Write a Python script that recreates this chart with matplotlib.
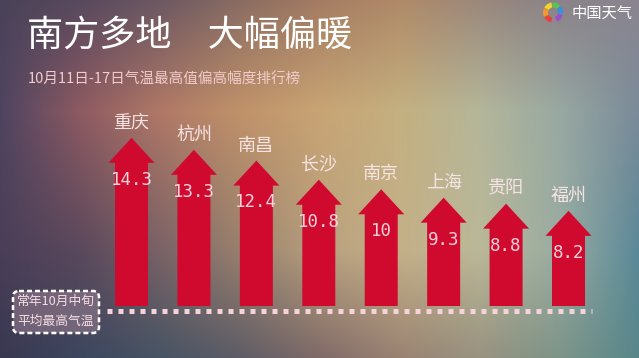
import numpy as np
import matplotlib
matplotlib.use("Agg")
import matplotlib.pyplot as plt
from matplotlib.patches import FancyArrow, FancyBboxPatch, Wedge
from matplotlib.colors import to_rgb

# ---------------- data ----------------
cities = ['重庆', '杭州', '南昌', '长沙', '南京', '上海', '贵阳', '福州']
values = [14.3, 13.3, 12.4, 10.8, 10, 9.3, 8.8, 8.2]
value_labels = ['14.3', '13.3', '12.4', '10.8', '10', '9.3', '8.8', '8.2']
title = '南方多地　大幅偏暖'
subtitle = '10月11日-17日气温最高值偏高幅度排行榜'
baseline_label = ['常年10月中旬', '平均最高气温']
logo_text = '中国天气'

plt.rcParams['font.family'] = ['Noto Sans CJK SC', 'DejaVu Sans']

W, H = 639, 358
fig = plt.figure(figsize=(W / 100, H / 100), dpi=100)

# ---------------- background gradient ----------------
cols_x = [0, 80, 160, 240, 320, 400, 480, 560, 639]
rows_y = [0, 110, 250, 358]
row_cols = [
    ['#4a4258', '#58495e', '#6c5862', '#8a6c62', '#a47c62', '#b08a68', '#9a887c', '#8a8288', '#8a8590'],
    ['#4e4460', '#8e5a62', '#b07866', '#c0926a', '#c8a474', '#c4b080', '#b4b69a', '#98a8a2', '#7a8a98'],
    ['#4a3e58', '#5a485c', '#7a6266', '#98806e', '#b8a07e', '#c4b088', '#bab898', '#98aca2', '#5a8898'],
    ['#383850', '#3c465e', '#465464', '#5e5c66', '#806a68', '#9a8272', '#989280', '#7c9488', '#58868a'],
]
xs = np.arange(W)
ys = np.arange(H)
rows = np.zeros((len(rows_y), W, 3))
for r, cl in enumerate(row_cols):
    rgb = np.array([to_rgb(c) for c in cl])
    for ch in range(3):
        rows[r, :, ch] = np.interp(xs, cols_x, rgb[:, ch])
img = np.zeros((H, W, 3))
for ch in range(3):
    for xi in range(W):
        img[:, xi, ch] = np.interp(ys, rows_y, rows[:, xi, ch])

bg = fig.add_axes([0, 0, 1, 1])
bg.set_xlim(0, W)
bg.set_ylim(H, 0)
bg.axis('off')
bg.imshow(img, extent=(0, W, H, 0), aspect='auto', interpolation='bilinear', zorder=0)

# ---------------- titles ----------------
bg.text(27, 36, title, fontsize=26, color='white', va='center', ha='left', zorder=5)
bg.text(28, 80, subtitle, fontsize=10.5, color='#f2cccc', va='center', ha='left', zorder=5)

# logo
swirl_cols = ['#e8403a', '#f39a2c', '#f6d32e', '#5cc24e', '#3a8fe0', '#9a4fc8']
for k, c in enumerate(swirl_cols):
    bg.add_patch(Wedge((553, 12.5), 10, 100 + k * 55, 100 + (k + 1) * 55 - 4,
                       width=5, facecolor=c, edgecolor='none', zorder=5))
bg.text(572, 13.5, logo_text, fontsize=11, color='white', fontweight='medium',
        va='center', ha='left', zorder=5)

# baseline box
bg.add_patch(FancyBboxPatch((13, 291), 86, 42, boxstyle='round,pad=0,rounding_size=6',
                            facecolor=(0.60, 0.50, 0.58, 0.55), edgecolor='white',
                            linewidth=1.8, linestyle=(0, (2, 1.2)), zorder=5))
bg.text(56, 301.5, baseline_label[0], fontsize=9.2, color='#f5dde2', ha='center', va='center', zorder=6)
bg.text(56, 321.5, baseline_label[1], fontsize=9.2, color='#f5dde2', ha='center', va='center', zorder=6)

# ---------------- arrows ----------------
ax = fig.add_axes([0, 0, 1, 1])
ax.patch.set_alpha(0)
ax.axis('off')
x0px, dxpx = 131.5, 62.43   # first arrow centre and spacing (px)
y0px, ypx = 309, 11.97      # zero line from top (px), px per unit
ax.set_xlim(-x0px / dxpx, (W - x0px) / dxpx)
ax.set_ylim(-(H - y0px) / ypx, y0px / ypx)

shaft_w = 33 / dxpx
head_w = 46 / dxpx
head_l = 25 / ypx
base = 3 / ypx
for i, (c, v, lab) in enumerate(zip(cities, values, value_labels)):
    ax.add_patch(FancyArrow(i, base, 0, v - base, width=shaft_w, head_width=head_w,
                            head_length=head_l, length_includes_head=True,
                            facecolor='#cf0a2e', edgecolor='none', zorder=3))
    ax.text(i, v + 1.25, c, fontsize=13, color='#f6e4e4', ha='center', va='center', zorder=4)
    ax.text(i, v - 3.5, lab, fontsize=12.5, color='#f8d2da', ha='center', va='center',
            family='DejaVu Sans Mono', zorder=4)

# dotted baseline
ax.plot([-0.39, 7.38], [-2 / ypx, -2 / ypx], color='#f5d3da', lw=3.6,
        dashes=(1, 1.2), dash_capstyle='butt', zorder=5)

fig.savefig('out.png', dpi=100)
